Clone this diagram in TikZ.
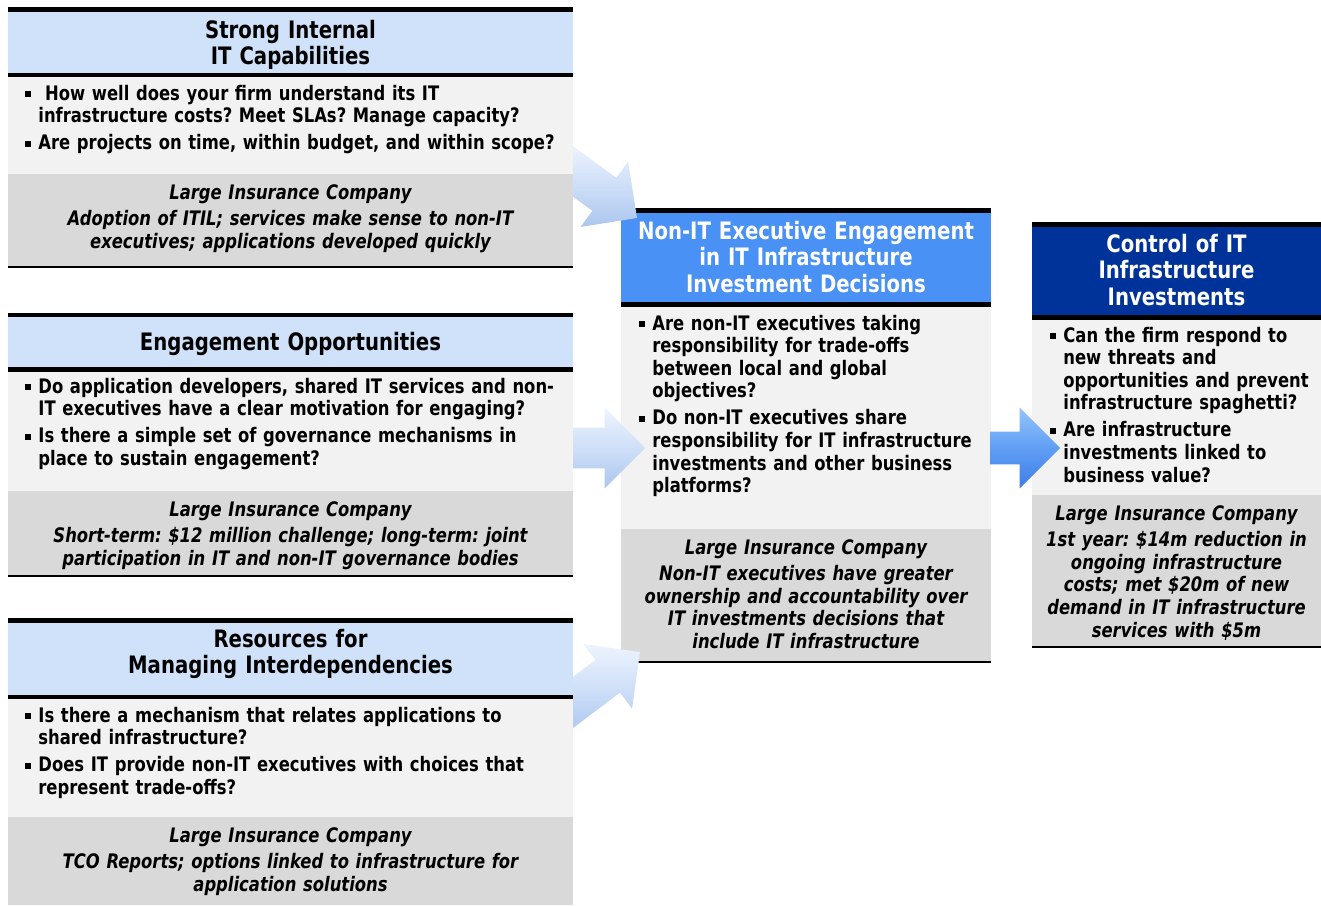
\documentclass[tikz,border=0pt]{standalone}
\usepackage{fontspec}
\setmainfont{DejaVu Sans}[FakeStretch=0.82]
\usepackage{tikz}
\usepackage{xcolor}
\usetikzlibrary{shapes.arrows}

\definecolor{hdrlight}{RGB}{207,226,250}
\definecolor{hdrmid}{RGB}{74,145,245}
\definecolor{hdrdark}{RGB}{0,51,153}
\definecolor{bodygray}{RGB}{242,242,242}
\definecolor{casegray}{RGB}{217,217,217}

% square bullet with hanging indent; \sqnext starts a further item
\newcommand{\sq}{\noindent\hangindent=6.5pt\hangafter=1%
  \makebox[6.5pt][l]{\rule[1.4pt]{3pt}{3pt}}}
\newcommand{\sqnext}{\par\addvspace{2.2pt}\sq}
\frenchspacing

\begin{document}
\begin{tikzpicture}[x=0.5pt, y=-0.5pt,
    hdr/.style = {font=\fontsize{12}{13.25}\selectfont\bfseries, align=center, text width=170pt, inner sep=0pt, anchor=base},
    qlist/.style = {font=\fontsize{10}{11.3}\selectfont\bfseries, align=left, text width=290pt, inner sep=0pt, anchor=base west},
    caseline/.style = {font=\fontsize{10}{11.3}\selectfont\bfseries\itshape, align=center, text width=290pt, inner sep=0pt, anchor=base},
    flow/.style = {single arrow, inner xsep=0pt, inner ysep=10pt, outer sep=0pt, minimum width=40pt, single arrow head extend=10pt,
                   top color={rgb,255:red,238;green,244;blue,253}, bottom color={rgb,255:red,172;green,198;blue,238},
                   middle color={rgb,255:red,206;green,223;blue,248}},
    flowdark/.style = {flow, inner ysep=8pt, single arrow head extend=12pt,
                   top color={rgb,255:red,150;green,196;blue,250}, bottom color={rgb,255:red,62;green,124;blue,228},
                   middle color={rgb,255:red,96;green,158;blue,245}}]

\useasboundingbox (0,0) rectangle (1321,905);
\fill[white] (0,0) rectangle (1321,905);

% centre panel
\fill[black]    (621,208) rectangle (991,213);
\fill[hdrmid]   (621,213) rectangle (991,302);
\fill[black]    (621,302) rectangle (991,307);
\fill[bodygray] (621,307) rectangle (991,529);
\fill[casegray] (621,529) rectangle (991,661);
\fill[black]    (621,661) rectangle (991,663);

\node[hdr, text=white, text width=180pt] (hdrM) at (806,239) {Non-IT Executive Engagement\\in IT Infrastructure\\Investment Decisions};
\node[qlist] (qM) at (639,330) {\sq Are non-IT executives taking\newline responsibility for trade-offs\newline between local and global\newline objectives?
  \sqnext Do non-IT executives share\newline responsibility for IT infrastructure\newline investments and other business\newline platforms?\par};
\node[caseline] (caseM) at (806,554) {Large Insurance Company\\[2pt]Non-IT executives have greater\\ownership and accountability over\\IT investments decisions that\\include IT infrastructure};

% right panel
\fill[black]    (1032,222) rectangle (1321,227);
\fill[hdrdark]  (1032,227) rectangle (1321,315);
\fill[black]    (1032,315) rectangle (1321,320);
\fill[bodygray] (1032,320) rectangle (1321,495);
\fill[casegray] (1032,495) rectangle (1321,646);
\fill[black]    (1032,646) rectangle (1321,648);

\node[hdr, text=white] (hdrR) at (1176.5,252) {Control of IT\\Infrastructure\\Investments};
\node[qlist] (qR) at (1050,342) {\sq Can the firm respond to\newline new threats and\newline opportunities and prevent\newline infrastructure spaghetti?
  \sqnext Are infrastructure\newline investments linked to\newline business value?\par};
\node[caseline] (caseR) at (1176.5,520) {Large Insurance Company\\[2pt]1st year: \$14m reduction in\\ongoing infrastructure\\costs; met \$20m of new\\demand in IT infrastructure\\services with \$5m};

% arrows, tails tucked under the left panels
\node[flow, minimum height=50pt, rotate=-36, anchor=tip] (arrA) at (637,218) {};
\node[flow, minimum height=43pt, anchor=tip] (arrB) at (645,448) {};
\node[flow, minimum height=55pt, rotate=37, anchor=tip] (arrC) at (640,652) {};
\node[flowdark, minimum height=35pt, anchor=tip] (arrM) at (1060,448) {};

% left panels
\fill[black]    (8,7) rectangle (573,12);
\fill[hdrlight] (8,12) rectangle (573,73);
\fill[black]    (8,73) rectangle (573,77);
\fill[bodygray] (8,77) rectangle (573,174);
\fill[casegray] (8,174) rectangle (573,266);
\fill[black]    (8,266) rectangle (573,268);

\fill[black]    (8,313) rectangle (573,317);
\fill[hdrlight] (8,317) rectangle (573,367);
\fill[black]    (8,367) rectangle (573,372);
\fill[bodygray] (8,372) rectangle (573,491);
\fill[casegray] (8,491) rectangle (573,575);
\fill[black]    (8,575) rectangle (573,577);

\fill[black]    (8,618) rectangle (573,623);
\fill[hdrlight] (8,623) rectangle (573,695);
\fill[black]    (8,695) rectangle (573,699);
\fill[bodygray] (8,699) rectangle (573,817);
\fill[casegray] (8,817) rectangle (573,905);

\node[hdr] (hdrA) at (290.5,38) {Strong Internal\\IT Capabilities};
\node[qlist] (qA) at (25,100) {\sq\ How well does your firm understand its IT\newline infrastructure costs? Meet SLAs? Manage capacity?
  \sqnext Are projects on time, within budget, and within scope?\par};
\node[caseline] (caseA) at (290.5,199) {Large Insurance Company\\[2pt]Adoption of ITIL; services make sense to non-IT\\executives; applications developed quickly};

\node[hdr] (hdrB) at (290.5,350) {Engagement Opportunities};
\node[qlist] (qB) at (25,393) {\sq Do application developers, shared IT services and non-\newline IT executives have a clear motivation for engaging?
  \sqnext Is there a simple set of governance mechanisms in\newline place to sustain engagement?\par};
\node[caseline] (caseB) at (290.5,516) {Large Insurance Company\\[2pt]Short-term: \$12 million challenge; long-term: joint\\participation in IT and non-IT governance bodies};

\node[hdr] (hdrC) at (290.5,647) {Resources for\\Managing Interdependencies};
\node[qlist] (qC) at (25,722) {\sq Is there a mechanism that relates applications to\newline shared infrastructure?
  \sqnext Does IT provide non-IT executives with choices that\newline represent trade-offs?\par};
\node[caseline] (caseC) at (290.5,842) {Large Insurance Company\\[2pt]TCO Reports; options linked to infrastructure for\\application solutions};
\end{tikzpicture}
\end{document}
